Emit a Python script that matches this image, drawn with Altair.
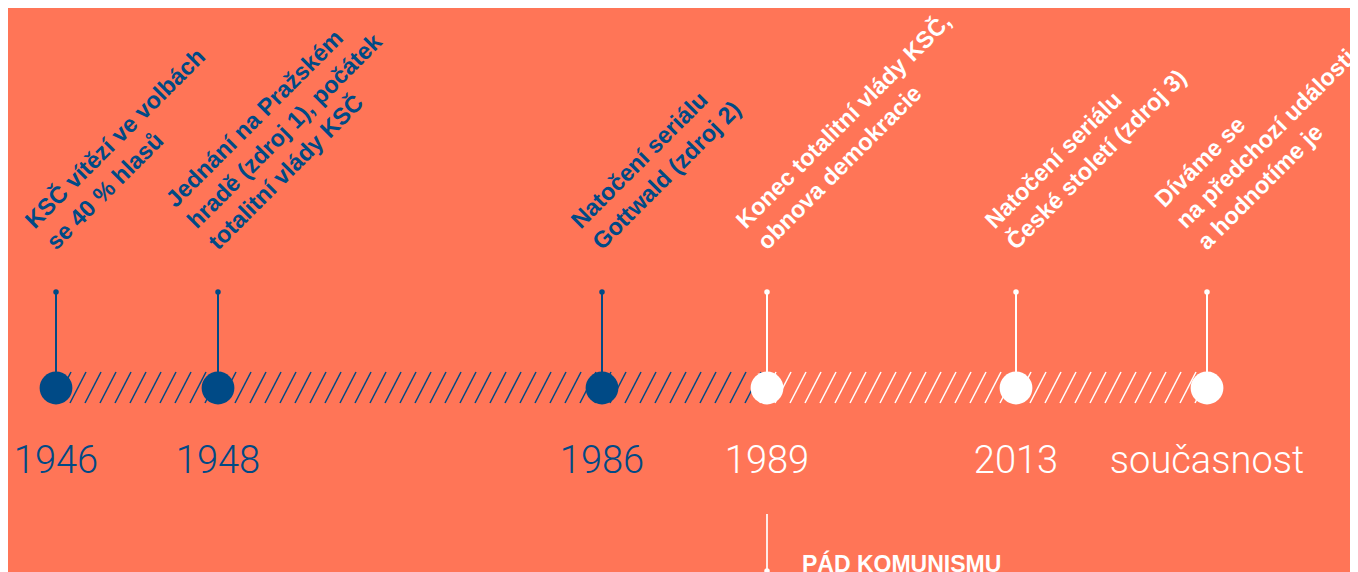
import altair as alt
import pandas as pd

# ---- data ----
years = [1946, 1948, 1986, 1989, 2013, 2025]
year_labels = ["1946", "1948", "1986", "1989", "2013", "současnost"]
eras = ["totalita", "totalita", "totalita", "demokracie", "demokracie", "demokracie"]
events = [
    ["KSČ vítězí ve volbách", "se 40 % hlasů"],
    ["Jednání na Pražském", "hradě (zdroj 1), počátek", "totalitní vlády KSČ"],
    ["Natočení seriálu", "Gottwald (zdroj 2)"],
    ["Konec totalitní vlády KSČ,", "obnova demokracie"],
    ["Natočení seriálu", "České století (zdroj 3)"],
    ["Díváme se", "na předchozí události", "a hodnotíme je"],
]
milestone_year = [1989]
milestone_text = ["PÁD KOMUNISMU"]

# ---- styling ----
BG = "#FF7557"
BLUE = "#004A86"
WHITE = "#FFFFFF"
W, H = 1342, 564
LH = 30

df = pd.DataFrame({
    "year": years,
    "label": year_labels,
    "era": eras,
    "event": events,
})
ms = pd.DataFrame({"year": milestone_year, "text": milestone_text})

# schematic (non-linear) timeline: piecewise-linear year scale
xscale = alt.Scale(domain=years, range=[48, 210, 594, 759, 1008, 1199])
X = alt.X("year:Q", scale=xscale, axis=None)
color = alt.Color("era:N", scale=alt.Scale(domain=["totalita", "demokracie"],
                                           range=[BLUE, WHITE]), legend=None)

base = alt.Chart(df)

# hatched band (decorative pattern, pixel scale)
pxscale = alt.Scale(domain=[0, W], range=[0, W])
hatch = alt.Chart(alt.sequence(47, 1189, 15, as_="px")).transform_calculate(
    px2="datum.px + 16",
    era="datum.px < 752 ? 'totalita' : 'demokracie'",
).mark_rule(strokeWidth=1.5).encode(
    x=alt.X("px:Q", scale=pxscale, axis=None),
    x2="px2:Q",
    y=alt.value(395),
    y2=alt.value(364),
    color=color,
)

stems = base.mark_rule(strokeWidth=2).encode(
    x=X, y=alt.value(284), y2=alt.value(364), color=color,
)
dots = base.mark_circle(size=30, opacity=1).encode(
    x=X, y=alt.value(284), color=color,
)
circles = base.mark_circle(size=1075, opacity=1).encode(
    x=X, y=alt.value(380), color=color,
)
year_text = base.mark_text(
    font="Roboto", fontWeight=300, fontSize=38, align="center", baseline="alphabetic",
).encode(
    x=X, y=alt.value(465), text="label:N", color=color,
)


def event_layer(n):
    return base.transform_calculate(n="length(datum.event)").transform_filter(
        alt.datum.n == n
    ).mark_text(
        font="Liberation Sans", fontWeight="bold", fontSize=23.5, lineHeight=LH,
        angle=315, align="left", baseline="alphabetic", dx=0, dy=-(n - 1) * LH,
    ).encode(
        x=X, y=alt.value(243), text="event", color=color,
    )


ms_base = alt.Chart(ms)
MX = alt.X("year:Q", scale=xscale, axis=None)
ms_rule = ms_base.mark_rule(strokeWidth=2, color=WHITE, opacity=0.85).encode(
    x=MX, y=alt.value(506), y2=alt.value(600),
)
ms_dot = ms_base.mark_circle(size=30, color=WHITE, opacity=1).encode(
    x=MX, y=alt.value(563),
)
ms_text = ms_base.mark_text(
    font="Liberation Sans", fontWeight="bold", fontSize=23, align="left",
    baseline="alphabetic", dx=35, color=WHITE,
).encode(
    x=MX, y=alt.value(564), text="text:N",
)

chart = alt.layer(
    hatch, stems, dots, circles, year_text, event_layer(2), event_layer(3),
    ms_rule, ms_dot, ms_text
).resolve_scale(x="independent").properties(
    width=W, height=H, padding=0, background=BG,
    autosize=alt.AutoSizeParams(type="none"),
).configure_view(stroke=None)

chart.save("out.html", embed_options={"renderer": "svg", "actions": False})
